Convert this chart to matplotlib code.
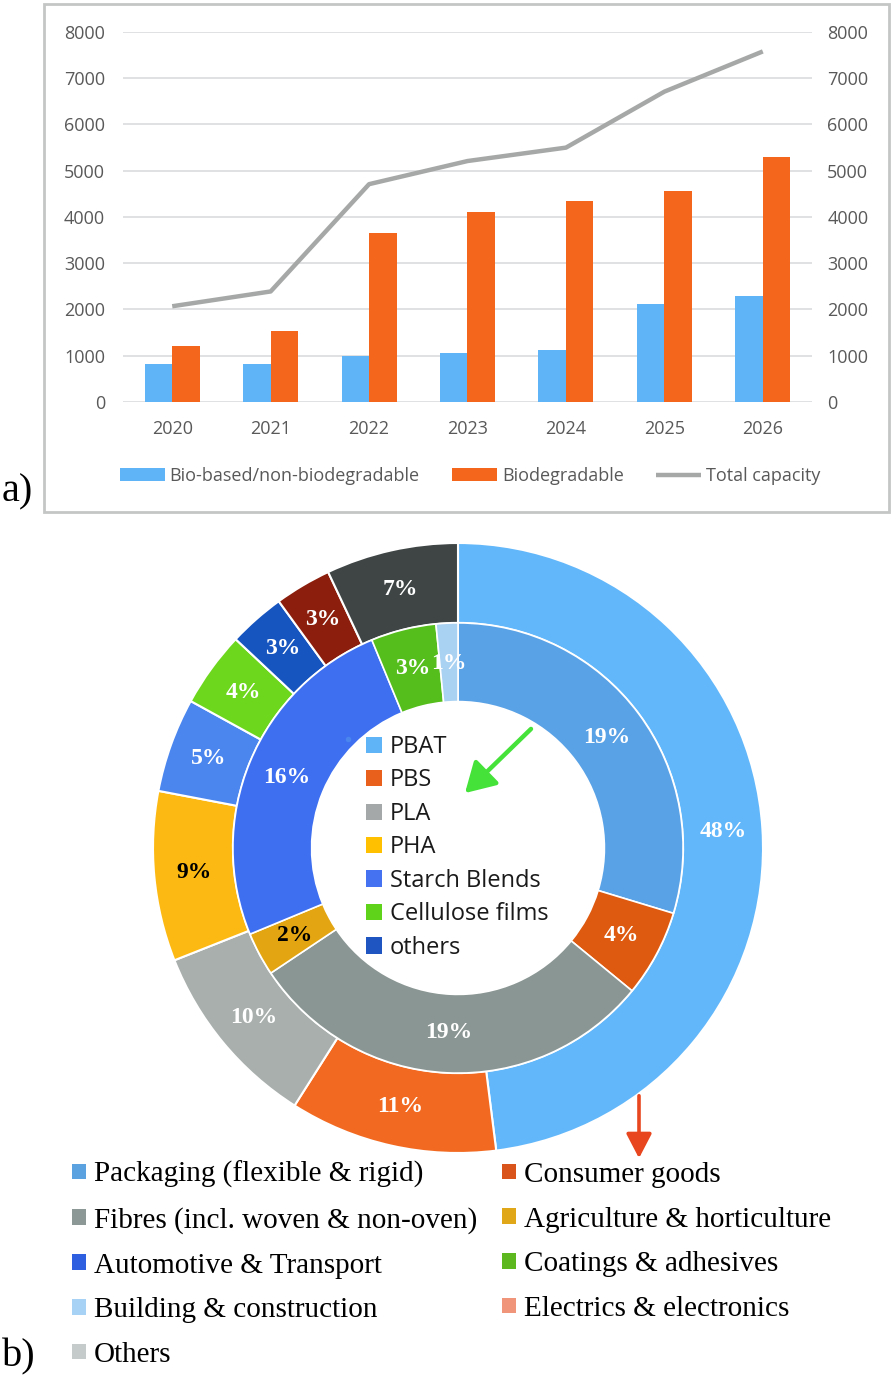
import numpy as np
import matplotlib
matplotlib.use("Agg")
import matplotlib.pyplot as plt
from matplotlib.patches import Patch, Rectangle, FancyArrowPatch

# ---------------- data ----------------
years = ["2020", "2021", "2022", "2023", "2024", "2025", "2026"]
bio_based = [830, 830, 1000, 1070, 1120, 2115, 2290]
biodegradable = [1220, 1540, 3660, 4100, 4340, 4560, 5290]
total_capacity = [2070, 2390, 4710, 5210, 5500, 6710, 7580]
y_ticks = [0, 1000, 2000, 3000, 4000, 5000, 6000, 7000, 8000]

sector_pct = [48, 11, 10, 9, 5, 4, 3, 3, 7]
sector_labels = ["48%", "11%", "10%", "9%", "5%", "4%", "3%", "3%", "7%"]
polymer_pct = [19, 4, 19, 2, 16, 3, 1]
polymer_labels = ["19%", "4%", "19%", "2%", "16%", "3%", "1%"]

polymer_legend = ["PBAT", "PBS", "PLA", "PHA", "Starch Blends", "Cellulose films", "others"]
sector_legend = ["Packaging (flexible & rigid)", "Consumer goods",
                 "Fibres (incl. woven & non-oven)", "Agriculture & horticulture",
                 "Automotive & Transport", "Coatings & adhesives",
                 "Building & construction", "Electrics & electronics", "Others"]

# ---------------- style ----------------
W, H = 893, 1383
def fx(x): return x / W
def fy(y): return 1 - y / H

SANS = ["Open Sans", "DejaVu Sans"]
SERIF = ["Liberation Serif", "DejaVu Serif"]
GRAY_TXT = "#595959"
C_BLUE = "#5EB4F6"
C_ORANGE = "#F4661C"
C_LINE = "#A6A8A8"

fig = plt.figure(figsize=(W / 100, H / 100), dpi=100)

# ---------------- panel a ----------------
fig.patches.append(Rectangle((fx(44), fy(512)), fx(889) - fx(44), fy(4) - fy(512),
                             transform=fig.transFigure, fill=False,
                             edgecolor="#C4C6C6", linewidth=2))

ax = fig.add_axes([fx(123), fy(402), (812 - 123) / W, (402 - 32) / H])
x = np.arange(len(years))
bw = 0.28
ax.bar(x - bw / 2, bio_based, bw, color=C_BLUE, label="Bio-based/non-biodegradable", zorder=2)
ax.bar(x + bw / 2, biodegradable, bw, color=C_ORANGE, label="Biodegradable", zorder=2)
ax.set_xlim(-0.5, len(years) - 0.5)
ax.set_ylim(0, 8000)
ax.set_yticks(y_ticks)
ax.set_yticklabels([str(v) for v in y_ticks], family=SANS, fontsize=13, color=GRAY_TXT)
ax.set_xticks(x)
ax.set_xticklabels(years, family=SANS, fontsize=13, color=GRAY_TXT)
ax.yaxis.grid(True, color="#D9DCDD", linewidth=1.2, zorder=0)
ax.set_axisbelow(True)
ax.tick_params(axis="y", length=0, pad=13)
ax.tick_params(axis="x", length=0, pad=13)
for s in ax.spines.values():
    s.set_visible(False)

ax2 = ax.twinx()
ax2.plot(x, total_capacity, color=C_LINE, linewidth=3.2, label="Total capacity",
         solid_capstyle="butt", zorder=3)
ax2.set_ylim(0, 8000)
ax2.set_yticks(y_ticks)
ax2.set_yticklabels([str(v) for v in y_ticks], family=SANS, fontsize=13, color=GRAY_TXT)
ax2.tick_params(axis="y", length=0, pad=11)
for s in ax2.spines.values():
    s.set_visible(False)

h1, l1 = ax.get_legend_handles_labels()
h2, l2 = ax2.get_legend_handles_labels()
fig.legend(h1 + h2, l1 + l2, loc="center", bbox_to_anchor=(fx(470), fy(476)),
           ncol=3, frameon=False, prop={"family": SANS, "size": 13},
           labelcolor=GRAY_TXT, handlelength=2.5, handleheight=0.7,
           handletextpad=0.25, columnspacing=1.8, borderpad=0, borderaxespad=0)

fig.text(fx(2), fy(492), "a)", family=SERIF, fontsize=29, ha="left", va="center")

# ---------------- panel b ----------------
cx, cy, R = 458, 848, 305
axd = fig.add_axes([fx(cx - R), fy(cy + R), 2 * R / W, 2 * R / H])

outer_colors = ["#62B7FA", "#F26A21", "#A8AFAD", "#FDB913", "#4A86EE",
                "#6DD71E", "#1654BF", "#8B1E0C", "#3F4545"]
inner_colors = ["#5AA2E6", "#DD5A10", "#8A9693", "#E3A511", "#3D6FF0",
                "#55BE1C", "#A9D1F2"]

w_out, _ = axd.pie(sector_pct, radius=1.0, startangle=90, counterclock=False,
                   colors=outer_colors,
                   wedgeprops=dict(width=0.262, edgecolor="white", linewidth=1.5))
r_in = 0.738
w_in, _ = axd.pie(polymer_pct, radius=r_in, startangle=90, counterclock=False,
                  colors=inner_colors,
                  wedgeprops=dict(width=0.258, edgecolor="white", linewidth=1.2))
axd.set_xlim(-1, 1)
axd.set_ylim(-1, 1)
axd.set_axis_off()

def place(wedges, labels, r, dark):
    for w, lab in zip(wedges, labels):
        a = np.deg2rad((w.theta1 + w.theta2) / 2)
        axd.text(r * np.cos(a), r * np.sin(a), lab, ha="center", va="center",
                 family=SERIF, fontweight="bold", fontsize=17,
                 color="black" if lab in dark else "white")

place(w_out, sector_labels, 0.87, {"9%"})
place(w_in, polymer_labels, 0.607, {"2%"})

# centre legend (polymers)
poly_leg_colors = ["#5EB4F6", "#E8601C", "#A5A8A8", "#FFC000", "#4472F0", "#5FD31A", "#1F55C0"]
ph = [Patch(facecolor=c, edgecolor="none") for c in poly_leg_colors]
fig.legend(ph, polymer_legend, loc="upper left", bbox_to_anchor=(fx(366), fy(735)),
           frameon=False, prop={"family": SANS, "size": 17}, labelcolor="#1A1A1A",
           handlelength=0.68, handleheight=0.68, handletextpad=0.34,
           labelspacing=0.40, borderpad=0, borderaxespad=0)

# arrows
axd.add_patch(FancyArrowPatch(((533 - cx) / R, (cy - 727) / R), ((463 - cx) / R, (cy - 795) / R),
                              arrowstyle="-|>,head_length=6,head_width=3.5",
                              color="#45E23A", linewidth=3.2, mutation_scale=3, clip_on=False))
fig.patches.append(FancyArrowPatch((fx(639), fy(1093)), (fx(639), fy(1161)),
                                   transform=fig.transFigure,
                                   arrowstyle="-|>,head_length=5,head_width=2.6",
                                   color="#E8461E", linewidth=2.6, mutation_scale=3))
axd.plot([(348 - cx) / R], [(cy - 739) / R], marker="o", markersize=3,
         color="#4A86EE", clip_on=False)

# bottom legend (sectors)
sector_colors = {"Packaging (flexible & rigid)": "#5BA3E0",
                 "Consumer goods": "#D9541A",
                 "Fibres (incl. woven & non-oven)": "#8C9896",
                 "Agriculture & horticulture": "#E0A818",
                 "Automotive & Transport": "#2E5FE0",
                 "Coatings & adhesives": "#5DB81F",
                 "Building & construction": "#A8D2F5",
                 "Electrics & electronics": "#F0957A",
                 "Others": "#C5CBCA"}
order = [0, 2, 4, 6, 8, 1, 3, 5, 7]
sh = [Patch(facecolor=sector_colors[sector_legend[i]], edgecolor="none") for i in order]
fig.legend(sh, [sector_legend[i] for i in order], loc="upper left",
           bbox_to_anchor=(fx(72), fy(1161)), ncol=2, frameon=False,
           prop={"family": SERIF, "size": 21}, handlelength=0.48, handleheight=0.45,
           handletextpad=0.27, labelspacing=0.64, columnspacing=0.85,
           borderpad=0, borderaxespad=0)

fig.text(fx(2), fy(1357), "b)", family=SERIF, fontsize=29, ha="left", va="center")

fig.savefig("out.png", dpi=100)
